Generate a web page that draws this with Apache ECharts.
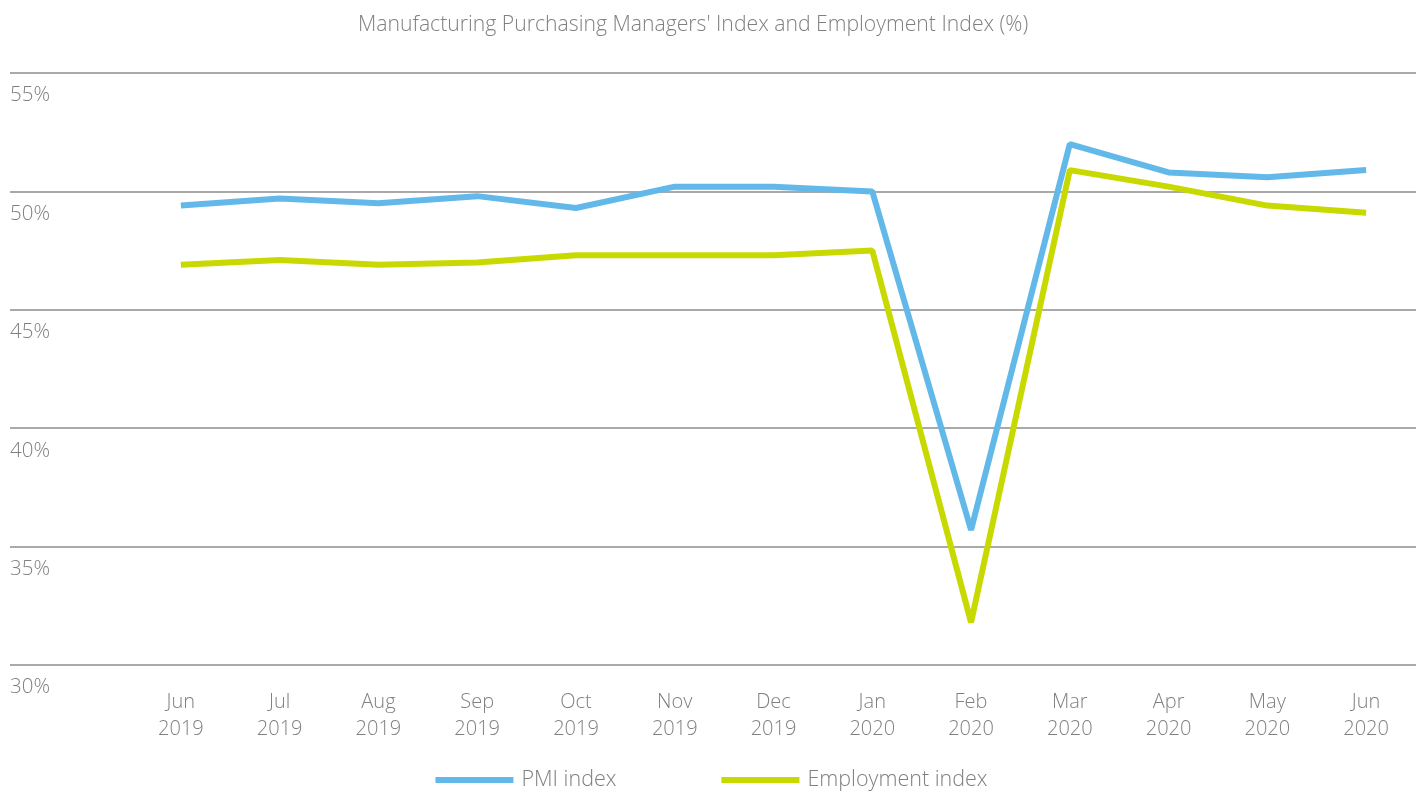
<!DOCTYPE html>
<html>
<head>
<meta charset="utf-8">
<script src="https://cdn.jsdelivr.net/npm/echarts@6/dist/echarts.min.js"></script>
<style>
  html, body { margin: 0; padding: 0; background: #fff; }
  #chart { width: 1423px; height: 792px; }
</style>
</head>
<body>
<div id="chart"></div>
<script>
const months = ['Jun\n2019', 'Jul\n2019', 'Aug\n2019', 'Sep\n2019', 'Oct\n2019', 'Nov\n2019', 'Dec\n2019',
  'Jan\n2020', 'Feb\n2020', 'Mar\n2020', 'Apr\n2020', 'May\n2020', 'Jun\n2020']
const pmiIndex = [49.4, 49.7, 49.5, 49.8, 49.3, 50.2, 50.2, 50.0, 35.7, 52.0, 50.8, 50.6, 50.9]
const employmentIndex = [46.9, 47.1, 46.9, 47.0, 47.3, 47.3, 47.3, 47.5, 31.8, 50.9, 50.2, 49.4, 49.1]

const textColor = '#808080'
const font = '"Open Sans", sans-serif'

const chart = echarts.init(document.getElementById('chart'))

const opt = {
    animation: false,
    textStyle: { fontFamily: font, fontWeight: 300 },
    title: {
        text: "Manufacturing Purchasing Managers' Index and Employment Index (%)",
        left: 353,
        top: 9,
        textStyle: { fontFamily: font, fontWeight: 300, fontSize: 21.2, color: textColor }
    },
    legend: {
        bottom: -4,
        left: 'center',
        itemWidth: 78,
        itemHeight: 6,
        itemGap: 105,
        icon: 'rect',
        textStyle: { fontFamily: font, fontWeight: 300, fontSize: 21.5, color: textColor, padding: [0, 0, 0, 3] },
        data: ['PMI index', 'Employment index']
    },
    grid: [
        // grid lines run the full width
        { left: 10, right: 7, top: 73, bottom: 127 },
        // the lines themselves
        { left: 131.5, right: 7.5, top: 73, bottom: 127 }
    ],
    xAxis: [
        { type: 'value', gridIndex: 0, show: false, min: 0, max: 1 },
        {
            type: 'category',
            gridIndex: 1,
            data: months,
            boundaryGap: true,
            axisLine: { show: false },
            axisTick: { show: false },
            axisLabel: {
                margin: 24,
                fontFamily: font,
                fontWeight: 300,
                fontSize: 20,
                lineHeight: 27,
                color: textColor
            }
        }
    ],
    yAxis: [
        {
            type: 'value',
            gridIndex: 0,
            min: 30,
            max: 55,
            interval: 5,
            axisLine: { show: false },
            axisTick: { show: false },
            splitLine: { lineStyle: { color: '#8c8c8c', width: 1.5 } },
            axisLabel: {
                inside: true,
                margin: 0,
                verticalAlign: 'top',
                padding: [12, 0, 0, 0],
                formatter: '{value}%',
                fontFamily: font,
                fontWeight: 300,
                fontSize: 20.5,
                color: textColor
            }
        },
        { type: 'value', gridIndex: 1, min: 30, max: 55, show: false }
    ],
    series: [
        {
            name: 'PMI index',
            type: 'line',
            xAxisIndex: 1,
            yAxisIndex: 1,
            data: pmiIndex,
            showSymbol: false,
            symbol: 'none',
            color: '#62b9e9',
            lineStyle: { width: 6, color: '#62b9e9' }
        },
        {
            name: 'Employment index',
            type: 'line',
            xAxisIndex: 1,
            yAxisIndex: 1,
            data: employmentIndex,
            showSymbol: false,
            symbol: 'none',
            color: '#c8d900',
            lineStyle: { width: 6, color: '#c8d900' }
        }
    ]
}

chart.setOption(opt)
</script>
</body>
</html>
